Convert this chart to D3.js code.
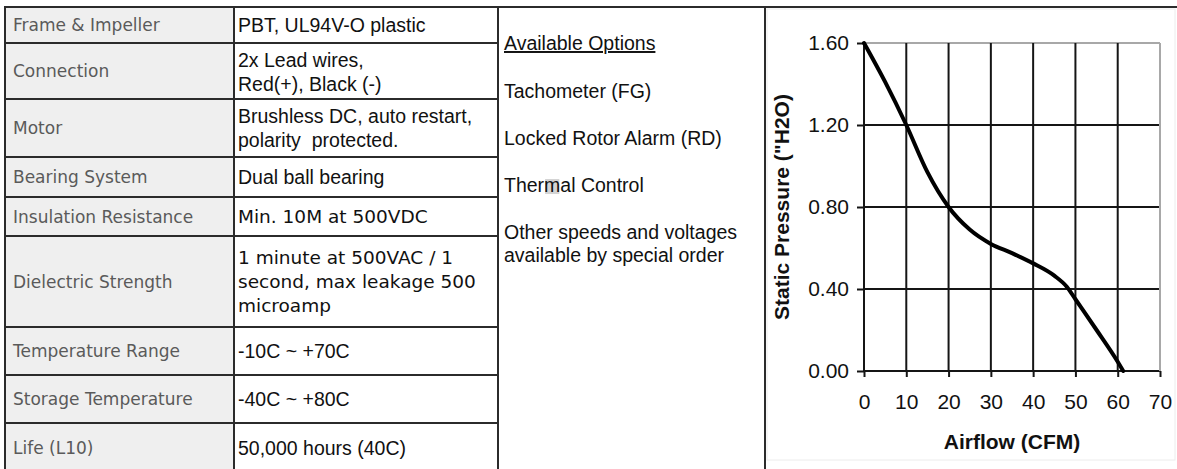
<!DOCTYPE html>
<html>
<head>
<meta charset="utf-8">
<script src="https://cdn.jsdelivr.net/npm/d3@7"></script>
<style>
    body { margin: 0; background: #fff; }
    svg { display: block; }
    .lbl { font-family: "DejaVu Sans", Verdana, sans-serif; font-size: 17px; fill: #5a5a5a; }
    .val { font-family: "Liberation Sans", Arial, sans-serif; font-size: 19.5px; fill: #111; white-space: pre; }
    .val.wide { font-family: "DejaVu Sans", Verdana, sans-serif; font-size: 18.5px; }
    .opt { font-family: "Liberation Sans", Arial, sans-serif; font-size: 19.5px; fill: #111; }
    .tick text { font-family: "Liberation Sans", Arial, sans-serif; font-size: 21px; fill: #111; }
    .title { font-family: "Liberation Sans", Arial, sans-serif; font-size: 21px; font-weight: bold; fill: #111; }
</style>
</head>
<body>
<div id="app"></div>
<script>

// ----- Data -----

const specLabels = [
    "Frame & Impeller",
    "Connection",
    "Motor",
    "Bearing System",
    "Insulation Resistance",
    "Dielectric Strength",
    "Temperature Range",
    "Storage Temperature",
    "Life (L10)"
];

const specValues = [
    ["PBT, UL94V-O plastic"],
    ["2x Lead wires,", "Red(+), Black (-)"],
    ["Brushless DC, auto restart,", "polarity  protected."],
    ["Dual ball bearing"],
    ["Min. 10M at 500VDC"],
    ["1 minute at 500VAC / 1", "second, max leakage 500", "microamp"],
    ["-10C ~ +70C"],
    ["-40C ~ +80C"],
    ["50,000 hours (40C)"]
];

const optionTitle = "Available Options";
const optionLines = [
    ["Tachometer (FG)"],
    ["Locked Rotor Alarm (RD)"],
    ["Thermal Control"],
    ["Other speeds and voltages", "available by special order"]
];

// P-Q curve
const airflow  = [0,    5,    10,   15,   20,   25,   30,   35,    40,    45,    48,   50,   55,   60,    61.3];
const pressure = [1.60, 1.41, 1.20, 0.97, 0.80, 0.69, 0.62, 0.575, 0.525, 0.465, 0.41, 0.35, 0.20, 0.045, 0.00];

const xTicks = [0, 10, 20, 30, 40, 50, 60, 70];
const yTicks = [0.00, 0.40, 0.80, 1.20, 1.60];

const xTitle = "Airflow (CFM)";
const yTitle = "Static Pressure (\"H2O)";

// ----- Layout -----

const W = 1177, H = 469;
const rowEdges = [7, 43, 99, 157, 197, 236, 327, 375, 423, 472];
const colLeft = 5, colVal = 234, colOpt = 498, colChart = 765;
const lineGap = 24;
const wideRows = [4, 5];       // rows set in the Verdana-like face
const rowNudge = { 1: 1 };     // small vertical offsets seen in the original
const optionCenters = [91, 138, 185, 232];

// ----- Main program -----

function main() {
    const svg = d3.select("#app").append("svg")
        .attr("width", W)
        .attr("height", H);

    // label column background
    svg.append("rect")
        .attr("x", colLeft).attr("y", rowEdges[0])
        .attr("width", colVal - colLeft).attr("height", H - rowEdges[0])
        .attr("fill", "#efefef");

    // chart panel faint frame
    svg.append("rect")
        .attr("x", colChart + 2).attr("y", rowEdges[0] + 2)
        .attr("width", 1175 - colChart - 2).attr("height", 460 - rowEdges[0] - 2)
        .attr("fill", "#fff")
        .attr("stroke", "#ececec");

    const grid = svg.append("g")
        .attr("stroke", "#2b2b2b")
        .attr("stroke-width", 2);

    // row separators (spec table only)
    grid.selectAll("line.row")
        .data(rowEdges.slice(1, -1))
        .enter()
        .append("line")
            .attr("x1", colLeft).attr("x2", colOpt)
            .attr("y1", d => d).attr("y2", d => d);

    // top border and column lines
    grid.append("line")
        .attr("x1", colLeft - 1).attr("x2", W)
        .attr("y1", rowEdges[0]).attr("y2", rowEdges[0]);
    grid.selectAll("line.col")
        .data([colLeft, colVal, colOpt, colChart])
        .enter()
        .append("line")
            .attr("x1", d => d).attr("x2", d => d)
            .attr("y1", rowEdges[0]).attr("y2", H);

    // labels
    svg.selectAll("text.lbl")
        .data(specLabels)
        .enter()
        .append("text")
            .attr("class", "lbl")
            .attr("x", 13)
            .attr("y", (d, i) => (rowEdges[i] + rowEdges[i + 1]) / 2)
            .attr("dy", "0.36em")
            .text(d => d);

    // values
    specValues.forEach((lines, i) => {
        const mid = (rowEdges[i] + rowEdges[i + 1]) / 2 + (rowNudge[i] || 0);
        const top = mid - (lines.length - 1) * lineGap / 2;
        svg.append("text")
            .attr("class", wideRows.includes(i) ? "val wide" : "val")
            .attr("xml:space", "preserve")
            .selectAll("tspan")
            .data(lines)
            .enter()
            .append("tspan")
                .attr("x", 238)
                .attr("y", (d, j) => top + j * lineGap)
                .attr("dy", "0.36em")
                .text(d => d);
    });

    // options column
    svg.append("text")
        .attr("class", "opt")
        .attr("x", 504).attr("y", 43)
        .attr("dy", "0.36em")
        .style("text-decoration", "underline")
        .text(optionTitle);

    optionLines.forEach((lines, i) => {
        const t = svg.append("text").attr("class", "opt");
        t.selectAll("tspan")
            .data(lines)
            .enter()
            .append("tspan")
                .attr("x", 504)
                .attr("y", (d, j) => optionCenters[i] + j * 23)
                .attr("dy", "0.36em")
                .text(d => d);
        // grey smudge behind the "m" of Thermal
        if (lines[0].startsWith("Thermal")) {
            const box = t.node().getExtentOfChar(4);
            svg.insert("rect", () => t.node())
                .attr("x", box.x + 1).attr("y", box.y + 5)
                .attr("width", box.width - 2).attr("height", box.height - 7)
                .attr("fill", "#d4d4d4");
        }
    });

    // ----- P-Q chart -----
    const xScale = d3.scaleLinear().domain([0, 70]).range([864, 1160]);
    const yScale = d3.scaleLinear().domain([0, 1.6]).range([371, 43]);
    const [xMin, xMax] = xScale.range();
    const [yBot, yTop] = yScale.range();

    const chart = svg.append("g");

    chart.selectAll("line.hgrid")
        .data(yTicks)
        .enter()
        .append("line")
            .attr("x1", xMin).attr("x2", xMax)
            .attr("y1", d => yScale(d)).attr("y2", d => yScale(d))
            .attr("stroke", d => d === 1.6 ? "#a8a8a8" : "#151515")
            .attr("stroke-width", 2);

    chart.selectAll("line.vgrid")
        .data(xTicks)
        .enter()
        .append("line")
            .attr("x1", d => xScale(d)).attr("x2", d => xScale(d))
            .attr("y1", yTop).attr("y2", yBot)
            .attr("stroke", d => d === 70 ? "#a8a8a8" : "#151515")
            .attr("stroke-width", 2);

    const axisLeft = d3.axisLeft(yScale)
        .tickValues(yTicks)
        .tickFormat(d3.format(".2f"))
        .tickSize(7)
        .tickPadding(8);

    const axisBottom = d3.axisBottom(xScale)
        .tickValues(xTicks)
        .tickFormat(d3.format("d"))
        .tickSize(6)
        .tickPadding(17);

    const gy = chart.append("g")
        .attr("transform", `translate(${xMin}, 0)`)
        .call(axisLeft);
    const gx = chart.append("g")
        .attr("transform", `translate(0, ${yBot})`)
        .call(axisBottom);

    [gx, gy].forEach(g => {
        g.select(".domain").remove();
        g.selectAll(".tick line").attr("stroke", "#151515").attr("stroke-width", 2);
        g.attr("font-family", null).attr("font-size", null);
    });

    const line = d3.line()
        .x((d, i) => xScale(airflow[i]))
        .y(d => yScale(d))
        .curve(d3.curveMonotoneX);

    chart.append("path")
        .datum(pressure)
        .attr("d", line)
        .attr("fill", "none")
        .attr("stroke", "#000")
        .attr("stroke-width", 4)
        .attr("stroke-linecap", "round");

    chart.append("text")
        .attr("class", "title")
        .attr("x", (xMin + xMax) / 2)
        .attr("y", 441)
        .attr("dy", "0.36em")
        .attr("text-anchor", "middle")
        .text(xTitle);

    chart.append("text")
        .attr("class", "title")
        .attr("transform", `translate(781, ${(yTop + yBot) / 2}) rotate(-90)`)
        .attr("dy", "0.36em")
        .attr("text-anchor", "middle")
        .text(yTitle);
}

main();
</script>
</body>
</html>
